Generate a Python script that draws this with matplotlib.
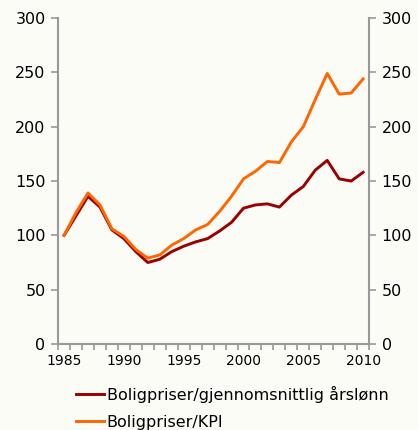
import matplotlib.pyplot as plt
import numpy as np

# index values (1985 = 100)
years = list(range(1985, 2011))
pris_lonn = [100, 118, 136, 126, 105, 97, 85, 75, 78, 85, 90, 94, 97,
             104, 112, 125, 128, 129, 126, 137, 145, 160, 169, 152, 150, 158]
pris_kpi = [100, 121, 139, 128, 106, 99, 87, 79, 82, 91, 97, 105, 110,
            122, 136, 152, 159, 168, 167, 186, 200, 225, 249, 230, 231, 244]

labels = ['Boligpriser/gjennomsnittlig årslønn', 'Boligpriser/KPI']
bg = '#fcfcf7'
spine_col = '#999999'

fig = plt.figure(figsize=(4.18, 4.30), dpi=100, facecolor=bg)
ax = fig.add_axes([0.139, 0.2, 0.744, 0.758], facecolor=bg)

l1, = ax.plot(years, pris_lonn, color='#990000', lw=2.1, solid_joinstyle='round')
l2, = ax.plot(years, pris_kpi, color='#ff6600', lw=2.1, solid_joinstyle='round')

ax.set_xlim(1984.5, 2010.5)
ax.set_ylim(0, 300)
ax.set_yticks(range(0, 301, 50))
ax.set_xticks(range(1985, 2011, 5))
ax.set_xticks(np.arange(1984.5, 2011, 1), minor=True)

# spines: no top
ax.spines['top'].set_visible(False)
for s in ['left', 'right', 'bottom']:
    ax.spines[s].set_color(spine_col)
    ax.spines[s].set_linewidth(1.5)

ax.tick_params(axis='y', which='both', left=True, right=True, labelleft=True,
               labelright=True, direction='out', length=5, width=1.2,
               color=spine_col, labelsize=11.5, pad=4)
ax.tick_params(axis='x', which='major', length=0, labelsize=10, pad=7)
ax.tick_params(axis='x', which='minor', length=4, width=1.2, color=spine_col,
               direction='out')

fig.legend([l1, l2], labels, loc='upper left', bbox_to_anchor=(0.167, 0.118),
           frameon=False, fontsize=11.5, handlelength=1.75, handletextpad=0.15,
           labelspacing=0.75, borderaxespad=0)

fig.savefig('out.png', dpi=100, facecolor=bg)
